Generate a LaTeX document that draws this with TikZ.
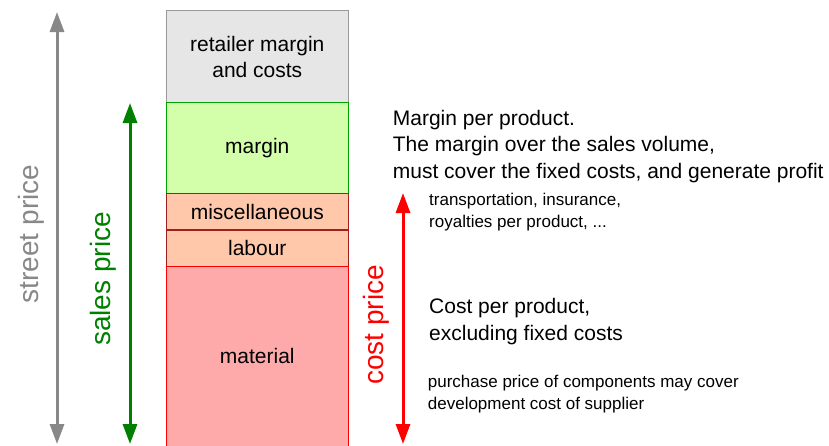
\documentclass[tikz,border=0pt]{standalone}
\usepackage{fontspec}
\setmainfont{Liberation Sans}
\usetikzlibrary{arrows.meta}
\definecolor{retailfill}{HTML}{E6E6E6}
\definecolor{retaildraw}{HTML}{999999}
\definecolor{marginfill}{HTML}{D4FFAA}
\definecolor{margindraw}{HTML}{00A000}
\definecolor{costfill}{HTML}{FFC8AA}
\definecolor{costdraw}{HTML}{A02020}
\definecolor{matfill}{HTML}{FFAAAA}
\definecolor{matdraw}{HTML}{FF0000}
\definecolor{streetcol}{HTML}{888888}
\definecolor{salescol}{HTML}{008000}

\begin{document}
\begin{tikzpicture}[x=1pt,y=-1pt,
  block/.style={draw, line width=1pt, minimum width=182.5pt, inner sep=0pt,
    align=center, font=\fontsize{21}{26}\selectfont},
  price/.style={line width=3pt,
    {Triangle[length=20pt,width=14pt]}-{Triangle[length=20pt,width=14pt]}},
  pricelabel/.style={rotate=90, anchor=base, inner sep=0pt,
    font=\fontsize{28}{34}\selectfont},
  note/.style={anchor=base west, align=left, inner sep=0pt,
    font=\fontsize{21}{26.5}\selectfont},
  smallnote/.style={anchor=base west, align=left, inner sep=0pt,
    font=\fontsize{17}{22}\selectfont}]
\useasboundingbox (0,0) rectangle (829,445);

% cost build-up of one product
\node[block, fill=retailfill, draw=retaildraw, minimum height=91.6pt] (retail) at (257.3,56.5) {retailer margin\\and costs};
\node[block, fill=marginfill, draw=margindraw, minimum height=91pt] (margin) at (257.3,147.8) {margin};
\node[block, fill=costfill, draw=costdraw, minimum height=36.7pt] (misc) at (257.3,211.6) {miscellaneous};
\node[block, fill=costfill, draw=costdraw, minimum height=36pt] (labour) at (257.3,248) {labour};
\node[block, fill=matfill, draw=matdraw, minimum height=180pt] (material) at (257.3,356) {material};

% price arrows
\coordinate (street top) at (57,12);
\coordinate (street bottom) at (57,444);
\coordinate (sales top) at (130,103);
\coordinate (sales bottom) at (130,444);
\coordinate (cost top) at (403,193);
\coordinate (cost bottom) at (403,444);

\draw[price, streetcol] (street bottom) -- (street top);
\draw[price, salescol] (sales bottom) -- (sales top);
\draw[price, red] (cost bottom) -- (cost top);

\node[pricelabel, text=streetcol] (street) at (38,234) {street price};
\node[pricelabel, text=salescol] (sales) at (110,279) {sales price};
\node[pricelabel, text=red] (cost) at (383,325) {cost price};

% explanations (base = last line)
\node[note] (margin note) at (392.7,178) {Margin per product.\\The margin over the sales volume,\\must cover the fixed costs, and generate profit};
\node[smallnote] (misc note) at (429,227) {transportation, insurance,\\royalties per product, ...};
\node[note] (cost note) at (429,340) {Cost per product,\\excluding fixed costs};
\node[smallnote] (material note) at (427.7,409) {purchase price of components may cover\\development cost of supplier};
\end{tikzpicture}
\end{document}
